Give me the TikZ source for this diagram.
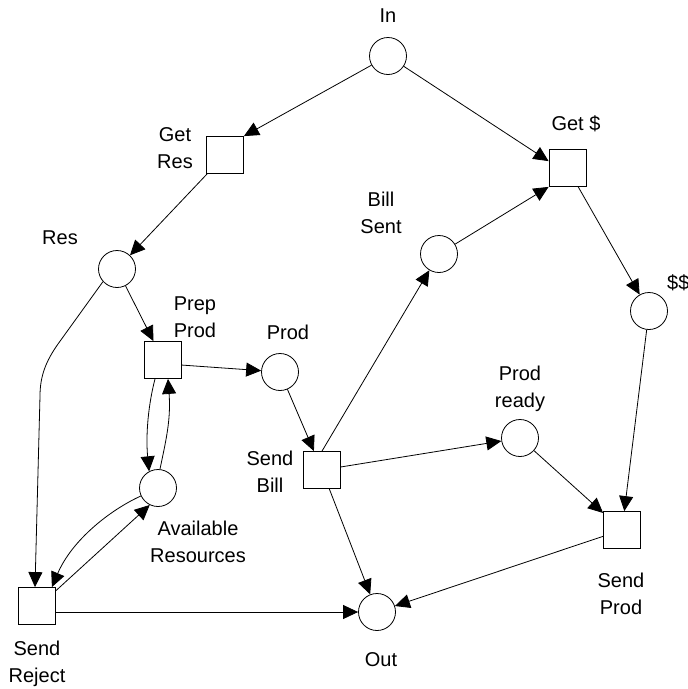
\documentclass[tikz,border=0pt]{standalone}
\usepackage{fontspec}
\setmainfont{Liberation Sans}
\usetikzlibrary{arrows.meta}
\begin{document}
\begin{tikzpicture}[x=1pt,y=-1pt,
  place/.style={circle,draw,minimum size=37pt,inner sep=0pt,line width=0.8pt},
  trans/.style={rectangle,draw,minimum size=37pt,inner sep=0pt,line width=0.8pt},
  lbl/.style={font=\fontsize{20}{27}\selectfont,align=center,inner sep=0pt},
  arc/.style={-{Triangle[length=15pt,width=14pt]},line width=0.8pt},
]
\useasboundingbox (0,0) rectangle (688,689);
% places
\node[place] (In) at (388,56) {};
\node[place] (BillSent) at (439,254) {};
\node[place] (Dollars) at (649,311) {};
\node[place] (Res) at (117,269) {};
\node[place] (Prod) at (280,372) {};
\node[place] (Avail) at (158,488) {};
\node[place] (Out) at (377,612) {};
\node[place] (ProdReady) at (520,438) {};
% transitions
\node[trans] (GetD) at (567.5,168) {};
\node[trans] (GetRes) at (225,155) {};
\node[trans] (PrepProd) at (163,360) {};
\node[trans] (SendBill) at (322,470) {};
\node[trans] (SendReject) at (37,606) {};
\node[trans] (SendProd) at (622,530) {};
% labels
\node[lbl] (lIn) at (388,16) {In};
\node[lbl] (lGetD) at (576,124) {Get \$};
\node[lbl] (lBill) at (381,213) {Bill\\Sent};
\node[lbl,anchor=west] (lDol) at (667,283) {\$\$};
\node[lbl] (lGetRes) at (175,148) {Get\\Res};
\node[lbl] (lRes) at (60,238) {Res};
\node[lbl] (lPrep) at (195,317) {Prep\\Prod};
\node[lbl] (lProd) at (288,332) {Prod};
\node[lbl] (lSendBill) at (270,472) {Send\\Bill};
\node[lbl] (lAvail) at (198,542) {Available\\Resources};
\node[lbl] (lSendReject) at (37,664) {Send\\Reject};
\node[lbl] (lReady) at (520,389) {Prod\\ready};
\node[lbl] (lSendProd) at (621,594) {Send\\Prod};
\node[lbl] (lOut) at (381,660) {Out};
% arcs
\draw[arc] (In) -- (GetRes.north east);
\draw[arc] (In) -- (GetD.160);
\draw[arc] (BillSent) -- (GetD.south west);
\draw[arc] (GetD) -- (Dollars);
\draw[arc] (Dollars) -- (SendProd);
\draw[arc] (GetRes) -- (Res);
\draw[arc] (Res) -- (PrepProd);
\draw[arc] (Res.222) -- (58,344) .. controls (46,361) and (40,376) .. (40,396) -- ([xshift=-2pt]SendReject.north);
\draw[arc] (PrepProd.-15) -- (Prod);
\draw[arc] ([xshift=-8pt]PrepProd.south) .. controls (147,410) and (146,440) .. (Avail.118);
\draw[arc] (Avail.84) .. controls (166,440) and (171,420) .. ([xshift=5pt]PrepProd.south);
\draw[arc] (Avail.205) .. controls (110,510) and (72,540) .. ([xshift=-4pt]SendReject.north east);
\draw[arc] (SendReject.39) -- (Avail.244);
\draw[arc] (SendReject.east |- Out.west) -- (Out.west);
\draw[arc] (Prod) -- (SendBill);
\draw[arc] (SendBill.north) -- (BillSent);
\draw[arc] (SendBill) -- (ProdReady);
\draw[arc] (SendBill) -- (Out);
\draw[arc] (ProdReady) -- (SendProd);
\draw[arc] (SendProd) -- (Out);
\end{tikzpicture}
\end{document}
